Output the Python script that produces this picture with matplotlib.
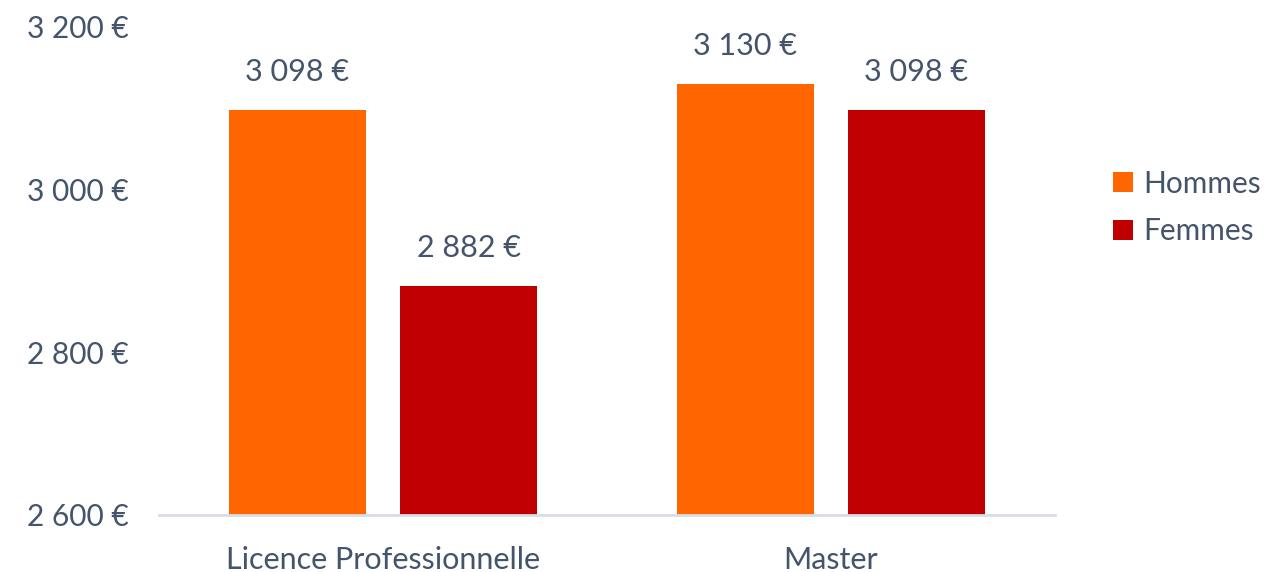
import matplotlib.pyplot as plt
import numpy as np

# Données : salaire par diplôme et par sexe
categories = ["Licence Professionnelle", "Master"]
hommes = [3098, 3130]
femmes = [2882, 3098]
yticks = [2600, 2800, 3000, 3200]

COL_H = "#FF6600"
COL_F = "#C00000"
TXT = "#44546A"

def euro(v):
    return f"{v:,.0f} €".replace(",", " ")

plt.rcParams['font.family'] = ['Lato', 'DejaVu Sans']

fig = plt.figure(figsize=(12.85, 5.72), dpi=100)
ax = fig.add_axes([0.1237, 0.0997, 0.6973, 0.8531])

x = np.arange(len(categories))
w = 0.306
off = 0.191
b1 = ax.bar(x - off, hommes, w, color=COL_H, label="Hommes")
b2 = ax.bar(x + off, femmes, w, color=COL_F, label="Femmes")

for bars, vals in [(b1, hommes), (b2, femmes)]:
    for rect, v in zip(bars, vals):
        ax.annotate(euro(v), (rect.get_x() + rect.get_width() / 2, v),
                    xytext=(0, 27), textcoords="offset points",
                    ha="center", va="center", fontsize=22, color=TXT)

ax.set_xlim(-0.5, 1.5)
ax.set_ylim(2600, 3200)
ax.set_yticks(yticks)
ax.set_yticklabels([euro(v) for v in yticks])
ax.set_xticks(x)
ax.set_xticklabels(categories)
ax.tick_params(axis="y", length=0, pad=22, labelsize=21.5, labelcolor=TXT)
ax.tick_params(axis="x", length=0, pad=22, labelsize=22, labelcolor=TXT)

for s in ["top", "right", "left"]:
    ax.spines[s].set_visible(False)
ax.spines["bottom"].set_color("#D9DEE4")
ax.spines["bottom"].set_linewidth(2)

leg = ax.legend(loc="center left", bbox_to_anchor=(1.035, 0.63), frameon=False,
                fontsize=21.5, handlelength=0.65, handleheight=0.65, handletextpad=0.35,
                labelspacing=0.65)
for t in leg.get_texts():
    t.set_color(TXT)

fig.savefig("out.png", dpi=100)
